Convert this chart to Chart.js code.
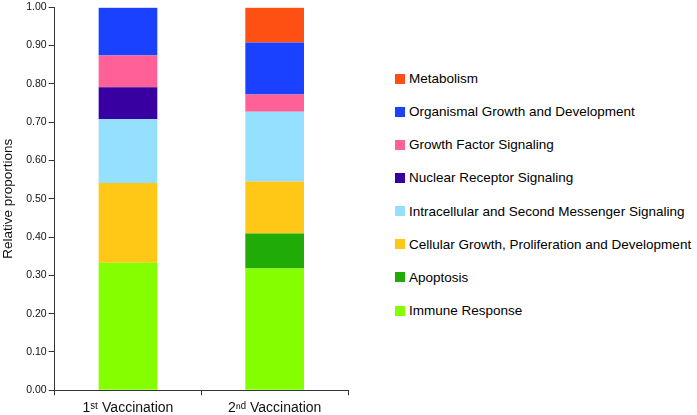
<!DOCTYPE html>
<html>
<head>
<meta charset="utf-8">
<script src="https://cdn.jsdelivr.net/npm/chart.js@4.4.0/dist/chart.umd.min.js"></script>
<style>
  html, body { margin: 0; padding: 0; background: #fff; overflow: hidden; }
  #wrap { position: relative; width: 697px; height: 415px; overflow: hidden; }
  #plot { position: absolute; left: 0; top: -1px; width: 352px; height: 423px; }
  #legend { position: absolute; left: 395px; top: 62px; font: 13.5px "Liberation Sans", Arial, sans-serif; color: #000; }
  #legend .row { height: 33.15px; display: flex; align-items: center; white-space: nowrap; }
  #legend .sw { width: 10px; height: 10px; margin-right: 4px; }
</style>
</head>
<body>
<div id="wrap">
  <div id="plot"><canvas id="chart"></canvas></div>
  <div id="legend"></div>
</div>
<script>
  // categories and tick labels
  var categories = ['1\u02E2\u1D57 Vaccination', '2\u207F\u1D48 Vaccination'];
  var yTicks = [0, 0.1, 0.2, 0.3, 0.4, 0.5, 0.6, 0.7, 0.8, 0.9, 1.0];

  // series, bottom of the stack first
  var seriesNames = [
    'Immune Response',
    'Apoptosis',
    'Cellular Growth, Proliferation and Development',
    'Intracellular and Second Messenger Signaling',
    'Nuclear Receptor Signaling',
    'Growth Factor Signaling',
    'Organismal Growth and Development',
    'Metabolism'
  ];
  var immuneResponse = [0.333, 0.318];
  var apoptosis = [0, 0.091];
  var cellularGrowth = [0.208, 0.136];
  var intracellular = [0.167, 0.182];
  var nuclearReceptor = [0.083, 0];
  var growthFactor = [0.083, 0.045];
  var organismal = [0.125, 0.136];
  var metabolism = [0, 0.091];

  var seriesColors = ['#85ff00', '#21ab06', '#ffc716', '#96e0ff', '#3800a0', '#ff6098', '#1941ff', '#ff5014'];
  var seriesValues = [immuneResponse, apoptosis, cellularGrowth, intracellular, nuclearReceptor, growthFactor, organismal, metabolism];

  var fontFamily = '"Liberation Sans", Arial, sans-serif';
  var axisColor = '#333';

  var datasets = seriesNames.map(function(name, i) {
    return {
      label: name,
      data: seriesValues[i],
      backgroundColor: seriesColors[i],
      borderWidth: 0,
      barPercentage: 0.4,
      categoryPercentage: 1.0
    };
  });

  var chart = new Chart(document.getElementById('chart').getContext('2d'), {
    type: 'bar',
    data: { labels: categories, datasets: datasets },
    options: {
      responsive: true,
      maintainAspectRatio: false,
      animation: false,
      layout: { padding: { top: 4, right: 4, bottom: 0, left: 0 } },
      plugins: {
        legend: { display: false },
        tooltip: { enabled: false }
      },
      scales: {
        x: {
          stacked: true,
          grid: { display: true, drawOnChartArea: false, offset: true, tickLength: 5, color: axisColor },
          border: { display: true, color: axisColor, width: 1 },
          ticks: { color: '#111', font: { family: fontFamily, size: 14 }, padding: 5 }
        },
        y: {
          stacked: true,
          min: 0,
          max: 1,
          afterBuildTicks: function(axis) {
            axis.ticks = yTicks.map(function(v) { return { value: v }; });
          },
          grid: { display: true, drawOnChartArea: false, tickLength: 6, color: axisColor },
          border: { display: true, color: axisColor, width: 1 },
          ticks: {
            color: '#111',
            font: { family: fontFamily, size: 10.5 },
            padding: 2,
            callback: function(v) { return Number(v).toFixed(2); }
          },
          title: {
            display: true,
            text: 'Relative proportions',
            color: '#111',
            font: { family: fontFamily, size: 13.5 },
            padding: { top: 0, bottom: 8 }
          }
        }
      }
    }
  });

  // legend, top row is the top of the stack
  var legendEl = document.getElementById('legend');
  for (var i = seriesNames.length - 1; i >= 0; i--) {
    var row = document.createElement('div');
    row.className = 'row';
    var sw = document.createElement('span');
    sw.className = 'sw';
    sw.style.background = seriesColors[i];
    var txt = document.createElement('span');
    txt.textContent = seriesNames[i];
    row.appendChild(sw);
    row.appendChild(txt);
    legendEl.appendChild(row);
  }
</script>
</body>
</html>
